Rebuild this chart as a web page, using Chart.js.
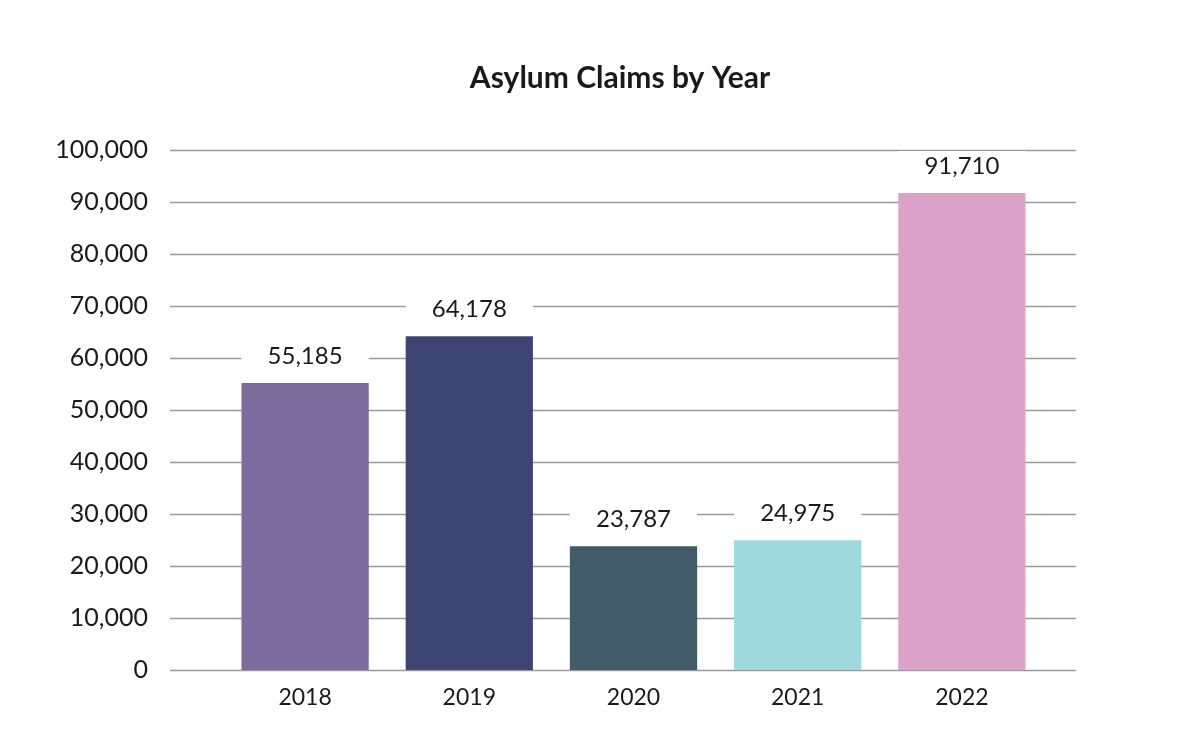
<!DOCTYPE html>
<html>
<head>
<meta charset="utf-8">
<script src="https://cdn.jsdelivr.net/npm/chart.js@4"></script>
<style>
  html, body { margin: 0; padding: 0; background: #fff; }
  #wrap { width: 1200px; height: 750px; }
</style>
</head>
<body>
<div id="wrap"><canvas id="asylumChart" width="1200" height="750"></canvas></div>
<script>
const years = ['2018', '2019', '2020', '2021', '2022'];
const claims = [55185, 64178, 23787, 24975, 91710];
const barColors = ['#7E6B9E', '#3E4472', '#415B69', '#9FD9DD', '#DCA2C8'];
const yTicks = [0, 10000, 20000, 30000, 40000, 50000, 60000, 70000, 80000, 90000, 100000];

const fontFamily = "'Lato', 'Noto Sans', sans-serif";
const textColor = '#1a1a1a';

// horizontal grid that runs wider than the bar area
const wideGrid = {
    id: 'wideGrid',
    beforeDatasetsDraw(chart) {
        const ctx = chart.ctx;
        const yScale = chart.scales.y;
        ctx.save();
        ctx.strokeStyle = '#9a9a9a';
        ctx.lineWidth = 1.5;
        yTicks.forEach(v => {
            const y = Math.round(yScale.getPixelForValue(v)) + 0.5;
            ctx.beginPath();
            ctx.moveTo(170, y);
            ctx.lineTo(1076, y);
            ctx.stroke();
        });
        ctx.restore();
    }
};

// value labels on a white box that hides the grid line behind them, plus the title
const valueLabels = {
    id: 'valueLabels',
    afterDatasetsDraw(chart) {
        const ctx = chart.ctx;
        const meta = chart.getDatasetMeta(0);
        ctx.save();
        ctx.font = '24px ' + fontFamily;
        ctx.textAlign = 'center';
        ctx.textBaseline = 'middle';
        meta.data.forEach((bar, i) => {
            const y = bar.y - 27;
            ctx.fillStyle = '#ffffff';
            ctx.fillRect(bar.x - bar.width / 2, y - 15, bar.width, 30);
            ctx.fillStyle = textColor;
            ctx.fillText(claims[i].toLocaleString('en-US'), bar.x, y);
        });
        ctx.font = 'bold 30px ' + fontFamily;
        ctx.fillText('Asylum Claims by Year', 620, 78);
        ctx.restore();
    }
};

const ctx = document.getElementById('asylumChart').getContext('2d');
new Chart(ctx, {
    type: 'bar',
    data: {
        labels: years,
        datasets: [{
            label: 'Asylum claims',
            data: claims,
            backgroundColor: barColors,
            borderWidth: 0,
            categoryPercentage: 1,
            barPercentage: 0.775
        }]
    },
    options: {
        responsive: false,
        animation: false,
        layout: { padding: { left: 0, right: 156, top: 150, bottom: 0 } },
        plugins: {
            legend: { display: false },
            tooltip: { enabled: false },
            title: { display: false }
        },
        scales: {
            y: {
                min: 0,
                max: 100000,
                afterBuildTicks: (axis) => { axis.ticks = yTicks.map(v => ({ value: v })); },
                afterFit: (axis) => {
                    axis.width = 223;
                    // big tick padding would otherwise push the plot bottom up
                    axis.paddingTop = 15;
                    axis.paddingBottom = 15;
                },
                ticks: {
                    color: textColor,
                    padding: 75,
                    font: { family: fontFamily, size: 25 },
                    callback: (v) => Number(v).toLocaleString('en-US')
                },
                grid: { display: false, drawTicks: false },
                border: { display: false }
            },
            x: {
                afterFit: (axis) => { axis.height = 80; },
                ticks: {
                    color: textColor,
                    padding: 14,
                    font: { family: fontFamily, size: 23 }
                },
                grid: { display: false, drawTicks: false },
                border: { display: false }
            }
        }
    },
    plugins: [wideGrid, valueLabels]
});
</script>
</body>
</html>
